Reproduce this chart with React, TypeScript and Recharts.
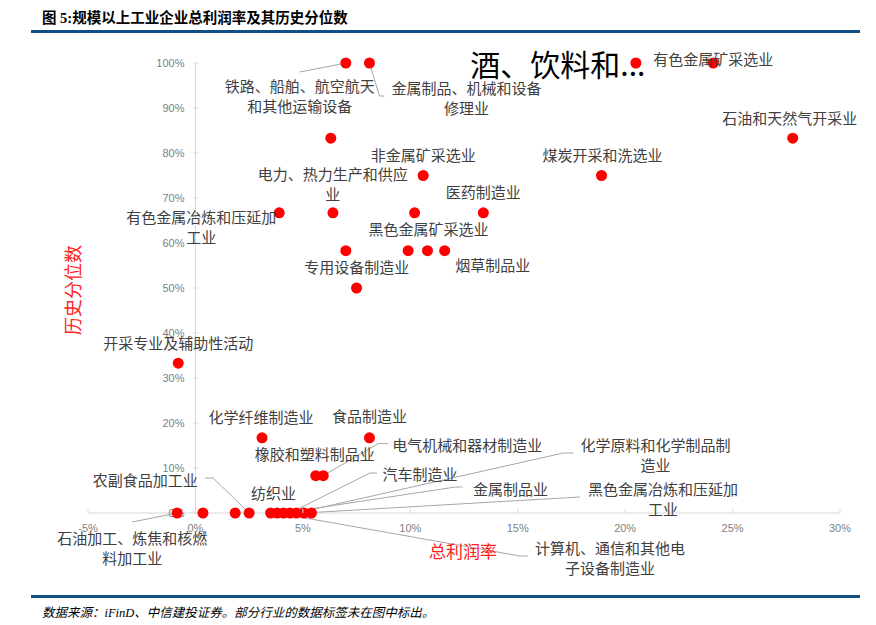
import { ScatterChart, Scatter, XAxis, YAxis, ReferenceLine } from 'recharts';

// 行业名称（未标注的行业在图中不显示标签）
const industries = [
  '铁路、船舶、航空航天和其他运输设备制造业',
  '金属制品、机械和设备修理业',
  '酒、饮料和精制茶制造业',
  '有色金属矿采选业',
  '石油和天然气开采业',
  '电力、热力生产和供应业',
  '非金属矿采选业',
  '煤炭开采和洗选业',
  '有色金属冶炼和压延加工业',
  '未标注行业A',
  '黑色金属矿采选业',
  '医药制造业',
  '专用设备制造业',
  '未标注行业B',
  '未标注行业C',
  '烟草制品业',
  '未标注行业D',
  '开采专业及辅助性活动',
  '化学纤维制造业',
  '食品制造业',
  '橡胶和塑料制品业',
  '电气机械和器材制造业',
  '石油加工、炼焦和核燃料加工业',
  '未标注行业E',
  '未标注行业F',
  '农副食品加工业',
  '纺织业',
  '计算机、通信和其他电子设备制造业',
  '金属制品业',
  '汽车制造业',
  '化学原料和化学制品制造业',
  '黑色金属冶炼和压延加工业',
  '未标注行业G',
];

// 总利润率（%）
const profitMargin = [
  7.0, 8.1, 20.5, 24.1, 27.8, 6.3, 10.6, 18.9, 3.9, 6.4, 10.2,
  13.4, 7.0, 9.9, 10.8, 11.6, 7.5, -0.8, 3.1, 8.1, 5.6, 5.95,
  -0.85, 0.35, 1.85, 2.5, 3.5, 3.8, 4.1, 4.4, 4.7, 5.05, 5.4,
];

// 历史分位数（%）
const percentile = [
  100, 100, 100, 100, 83.3, 83.3, 75, 75, 66.7, 66.7, 66.7,
  66.7, 58.3, 58.3, 58.3, 58.3, 50, 33.3, 16.7, 16.7, 8.3, 8.3,
  0, 0, 0, 0, 0, 0, 0, 0, 0, 0, 0,
];

const xTicks = [-0.05, 0, 0.05, 0.1, 0.15, 0.2, 0.25, 0.3];
const yTicks = [0, 0.1, 0.2, 0.3, 0.4, 0.5, 0.6, 0.7, 0.8, 0.9, 1];

// 标签版式：相对数据点的偏移（像素），leader 为引导线折点
type LabelSpec = { lines: string[]; dx: number; dy: number; leader?: number[][]; big?: boolean };
const LABELS: Record<string, LabelSpec> = {
  '铁路、船舶、航空航天和其他运输设备制造业': { lines: ['铁路、船舶、航空航天', '和其他运输设备'], dx: -46, dy: 22, leader: [[0, 0], [-46, 9]] },
  '金属制品、机械和设备修理业': { lines: ['金属制品、机械和设备', '修理业'], dx: 97, dy: 24, leader: [[0, 0], [10, 33], [15, 33]] },
  '酒、饮料和精制茶制造业': { lines: ['酒、饮料和...'], dx: -78, dy: 0, big: true },
  '有色金属矿采选业': { lines: ['有色金属矿采选业'], dx: 0, dy: -5 },
  '石油和天然气开采业': { lines: ['石油和天然气开采业'], dx: -3, dy: -21 },
  '电力、热力生产和供应业': { lines: ['电力、热力生产和供应', '业'], dx: 2, dy: 35 },
  '非金属矿采选业': { lines: ['非金属矿采选业'], dx: 0, dy: -21 },
  '煤炭开采和洗选业': { lines: ['煤炭开采和洗选业'], dx: 1, dy: -21 },
  '有色金属冶炼和压延加工业': { lines: ['有色金属冶炼和压延加', '工业'], dx: -78, dy: 4 },
  '黑色金属矿采选业': { lines: ['黑色金属矿采选业'], dx: 14, dy: 16 },
  '医药制造业': { lines: ['医药制造业'], dx: 0, dy: -21 },
  '专用设备制造业': { lines: ['专用设备制造业'], dx: 11, dy: 16 },
  '烟草制品业': { lines: ['烟草制品业'], dx: 48, dy: 14 },
  '开采专业及辅助性活动': { lines: ['开采专业及辅助性活动'], dx: 0, dy: -21 },
  '化学纤维制造业': { lines: ['化学纤维制造业'], dx: -1, dy: -21 },
  '食品制造业': { lines: ['食品制造业'], dx: 0, dy: -22 },
  '橡胶和塑料制品业': { lines: ['橡胶和塑料制品业'], dx: -1, dy: -22 },
  '电气机械和器材制造业': { lines: ['电气机械和器材制造业'], dx: 144, dy: -31, leader: [[0, 0], [55, -32], [65, -32]] },
  '石油加工、炼焦和核燃料加工业': { lines: ['石油加工、炼焦和核燃', '料加工业'], dx: -45, dy: 24, leader: [[0, 0], [-45, 9]] },
  '农副食品加工业': { lines: ['农副食品加工业'], dx: -104, dy: -34, leader: [[0, 0], [-36, -35], [-44, -35]] },
  '纺织业': { lines: ['纺织业'], dx: 3, dy: -21 },
  '计算机、通信和其他电子设备制造业': { lines: ['计算机、通信和其他电', '子设备制造业'], dx: 333, dy: 34, leader: [[0, 0], [243, 43], [251, 43]] },
  '金属制品业': { lines: ['金属制品业'], dx: 227, dy: -25, leader: [[0, 0], [172, -26], [179, -26]] },
  '汽车制造业': { lines: ['汽车制造业'], dx: 130, dy: -40, leader: [[0, 0], [80, -40], [87, -40]] },
  '化学原料和化学制品制造业': { lines: ['化学原料和化学制品制', '造业'], dx: 359, dy: -69, leader: [[0, 0], [267, -60], [277, -60]] },
  '黑色金属冶炼和压延加工业': { lines: ['黑色金属冶炼和压延加', '工业'], dx: 359, dy: -25, leader: [[0, 0], [276, -16]] },
};

const points = industries.map((name, i) => ({
  name,
  x: profitMargin[i] / 100,
  y: percentile[i] / 100,
}));
const yTickPoints = yTicks.map(v => ({ x: 0, y: v }));

const LABEL_FONT = "'Noto Sans CJK SC', sans-serif";
const AXIS_FONT = "'Liberation Sans', Arial, sans-serif";

const pct = (v: number) => `${Math.round(v * 100)}%`;

const Dot = (props: any) => {
  const { cx, cy } = props;
  return <circle cx={cx} cy={cy} r={5.5} fill="#ff0000" />;
};

const Leader = (props: any) => {
  const { cx, cy, payload } = props;
  const spec = LABELS[payload.name];
  if (!spec || !spec.leader) return <g />;
  const pts = spec.leader.map(p => `${cx + p[0]},${cy + p[1]}`).join(' ');
  return <polyline points={pts} fill="none" stroke="#a6a6a6" strokeWidth={1} />;
};

const PointLabel = (props: any) => {
  const { cx, cy, payload } = props;
  const spec = LABELS[payload.name];
  if (!spec) return <g />;
  return (
    <g>
      {spec.lines.map((line, i) => (
        <text
          key={i}
          x={cx + spec.dx}
          y={cy + spec.dy + i * 20}
          textAnchor="middle"
          dominantBaseline="central"
          fontFamily={LABEL_FONT}
          fontSize={spec.big ? 30 : 15}
          fill={spec.big ? '#000000' : '#404040'}
        >
          {line}
        </text>
      ))}
    </g>
  );
};

const YTick = (props: any) => {
  const { cx, cy, payload } = props;
  return (
    <g>
      <line x1={cx - 2} y1={cy} x2={cx + 3} y2={cy} stroke="#d9d9d9" />
      <text x={cx - 11} y={cy} textAnchor="end" dominantBaseline="central" fontFamily={AXIS_FONT} fontSize={11} fill="#808080">
        {pct(payload.y)}
      </text>
    </g>
  );
};

const XTick = (props: any) => {
  const { x, y, payload } = props;
  return (
    <g>
      <line x1={x} y1={y - 4} x2={x} y2={y} stroke="#d9d9d9" />
      <text x={x} y={y + 15} textAnchor="middle" dominantBaseline="central" fontFamily={AXIS_FONT} fontSize={11} fill="#808080">
        {pct(payload.value)}
      </text>
    </g>
  );
};

export default function App() {
  return (
    <div style={{ position: 'absolute', left: 0, top: 0, width: 876, height: 625, background: '#fff' }}>
      <div style={{ position: 'absolute', left: 42, top: 6, fontFamily: "'Liberation Serif', 'Noto Sans CJK SC', serif", fontWeight: 'bold', fontSize: 14.5, color: '#000', whiteSpace: 'nowrap' }}>
        图 5:规模以上工业企业总利润率及其历史分位数
      </div>
      <div style={{ position: 'absolute', left: 31, top: 30, width: 829, height: 3, background: '#0f4f84' }} />

      <ScatterChart width={876} height={625} margin={{ top: 63, right: 36, left: 88, bottom: 82 }}>
        <XAxis
          type="number"
          dataKey="x"
          domain={[-0.05, 0.3]}
          ticks={xTicks}
          axisLine={{ stroke: '#d9d9d9' }}
          tickLine={false}
          tickSize={0}
          tickMargin={0}
          tick={<XTick />}
        />
        <YAxis type="number" dataKey="y" domain={[0, 1]} hide />
        <ReferenceLine segment={[{ x: 0, y: 0 }, { x: 0, y: 1 }]} stroke="#d9d9d9" />
        <Scatter data={yTickPoints} shape={<YTick />} isAnimationActive={false} />
        <Scatter data={points} shape={<Leader />} isAnimationActive={false} />
        <Scatter data={points} shape={<Dot />} isAnimationActive={false} />
        <Scatter data={points} shape={<PointLabel />} isAnimationActive={false} />
      </ScatterChart>

      <div style={{ position: 'absolute', left: 22, top: 279, width: 100, height: 22, textAlign: 'center', fontFamily: LABEL_FONT, fontSize: 18, lineHeight: '22px', color: '#ff2020', whiteSpace: 'nowrap', transform: 'rotate(-90deg)' }}>
        历史分位数
      </div>
      <div style={{ position: 'absolute', left: 429, top: 540, fontFamily: LABEL_FONT, fontSize: 17, color: '#ff2020', whiteSpace: 'nowrap', lineHeight: '22px' }}>
        总利润率
      </div>

      <div style={{ position: 'absolute', left: 31, top: 595, width: 829, height: 2.5, background: '#0f4f84' }} />
      <div style={{ position: 'absolute', left: 42, top: 602, fontFamily: "'Liberation Serif', 'Noto Sans CJK SC', serif", fontStyle: 'italic', fontSize: 12.5, color: '#000', whiteSpace: 'nowrap' }}>
        数据来源：iFinD、中信建投证券。部分行业的数据标签未在图中标出。
      </div>
    </div>
  );
}
